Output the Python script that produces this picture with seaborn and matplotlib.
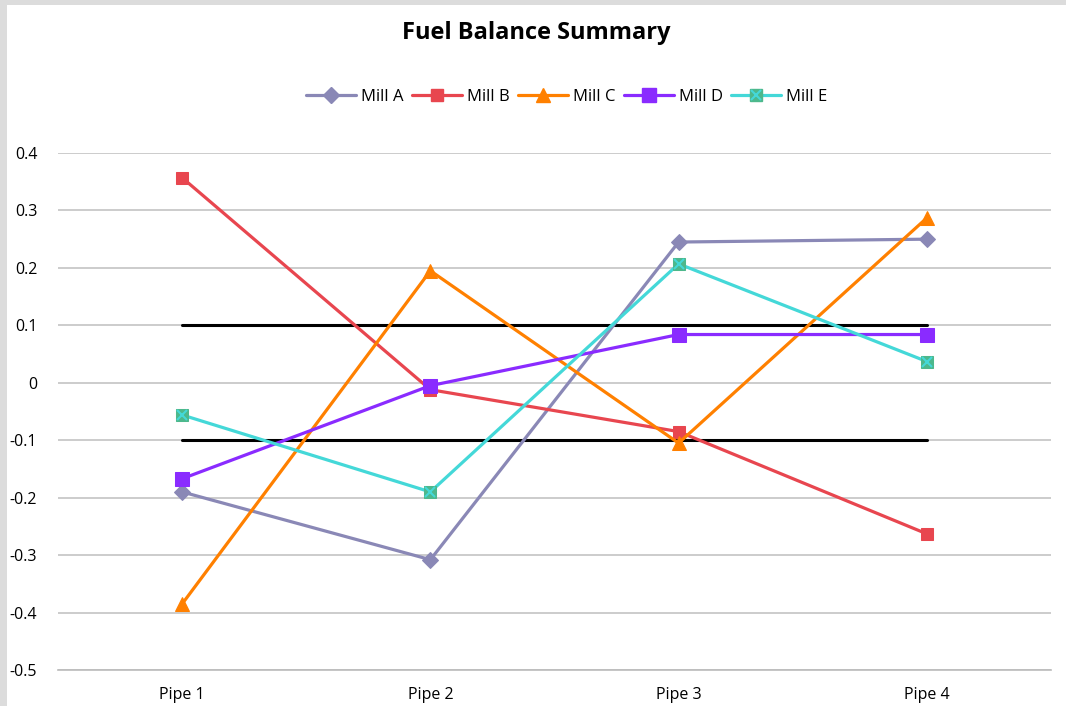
import pandas as pd
import matplotlib.pyplot as plt
import seaborn as sns
from matplotlib.patches import Rectangle
from matplotlib.lines import Line2D

# data
pipes = ['Pipe 1', 'Pipe 2', 'Pipe 3', 'Pipe 4']
mill_a = [-0.19, -0.308, 0.245, 0.25]
mill_b = [0.357, -0.012, -0.085, -0.263]
mill_c = [-0.385, 0.195, -0.105, 0.287]
mill_d = [-0.167, -0.005, 0.084, 0.084]
mill_e = [-0.056, -0.19, 0.207, 0.037]
limits = [0.1, -0.1]

mills = ['Mill A', 'Mill B', 'Mill C', 'Mill D', 'Mill E']
series = [mill_a, mill_b, mill_c, mill_d, mill_e]
line_colors = ['#8A88B6', '#E8464F', '#FF8000', '#8A2BFF', '#44D8D8']
face_colors = ['#8A88B6', '#E8464F', '#FF8000', '#8A2BFF', '#4DB88C']
marker_list = ['D', 's', '^', 's', 's']
marker_sizes = [8, 9, 10, 10, 9]

df = pd.DataFrame({
    'pipe': pipes * len(mills),
    'value': sum(series, []),
    'mill': [m for m in mills for _ in pipes],
})

sns.set_style('white')
plt.rcParams['font.family'] = ['Open Sans', 'DejaVu Sans']
plt.rcParams['text.color'] = 'black'
plt.rcParams['xtick.color'] = 'black'
plt.rcParams['ytick.color'] = 'black'

fig = plt.figure(figsize=(10.66, 7.06), dpi=100)
fig.patch.set_facecolor('#DCDCDC')
fig.patches.append(Rectangle((7 / 1066, 0), 1, 1 - 5 / 706, transform=fig.transFigure,
                             facecolor='white', edgecolor='none', zorder=-5))
ax = fig.add_axes([58 / 1066, 1 - 670 / 706, (1051 - 58) / 1066, (670 - 153) / 706])
ax.set_facecolor('none')

# threshold lines
for lim in limits:
    ax.plot([0, 3], [lim, lim], color='black', lw=2.2, zorder=2)

handles = []
for i, m in enumerate(mills):
    sub = df[df['mill'] == m]
    sns.lineplot(data=sub, x='pipe', y='value', ax=ax, color=line_colors[i], lw=2.3,
                 marker=marker_list[i], markersize=marker_sizes[i],
                 markerfacecolor=face_colors[i], markeredgecolor=face_colors[i],
                 sort=False, legend=False, zorder=3)
    h = Line2D([], [], color=line_colors[i], lw=2.3, marker=marker_list[i],
               markersize=marker_sizes[i], markerfacecolor=face_colors[i],
               markeredgecolor=face_colors[i])
    if m == 'Mill E':
        ax.plot(pipes, sub['value'], ls='none', marker='x', markersize=7,
                markeredgecolor=line_colors[i], mew=1.5, zorder=4)
        hx = Line2D([], [], ls='none', marker='x', markersize=7,
                    markeredgecolor=line_colors[i], mew=1.5)
        h = (h, hx)
    handles.append(h)

ax.set_xlim(-0.5, 3.5)
ax.set_ylim(-0.5, 0.4)
ax.set_yticks([0.4, 0.3, 0.2, 0.1, 0, -0.1, -0.2, -0.3, -0.4, -0.5])
ax.set_yticklabels(['0.4', '0.3', '0.2', '0.1', '0', '-0.1', '-0.2', '-0.3', '-0.4', '-0.5'])
ax.yaxis.grid(True, color='#C4C4C4', lw=1.2)
ax.set_axisbelow(True)
ax.set_xlabel('')
ax.set_ylabel('')

# category separators on the x axis
ax.set_xticks([-0.5, 0.5, 1.5, 2.5, 3.5])
ax.set_xticklabels([])
ax.set_xticks(range(4), minor=True)
ax.set_xticklabels(pipes, minor=True)
ax.tick_params(axis='x', which='major', length=6, color='#BBBBBB', direction='out')
ax.tick_params(axis='x', which='minor', length=0, labelsize=11.5, pad=12)
ax.tick_params(axis='y', length=5, color='#BBBBBB', labelsize=11.5, pad=10)
for s in ['top', 'right', 'left']:
    ax.spines[s].set_visible(False)
ax.spines['bottom'].set_color('#BBBBBB')
ax.spines['bottom'].set_linewidth(1.2)

fig.text(536 / 1066, 1 - 33 / 706, 'Fuel Balance Summary', ha='center', va='center',
         fontsize=17, fontweight='bold', color='black')
fig.legend(handles, mills, loc='center', bbox_to_anchor=(567 / 1066, 1 - 97 / 706),
           ncol=5, frameon=False, fontsize=12, handlelength=3.0, columnspacing=0.5,
           handletextpad=0.3)

fig.savefig('out.png', dpi=100, facecolor=fig.get_facecolor())
